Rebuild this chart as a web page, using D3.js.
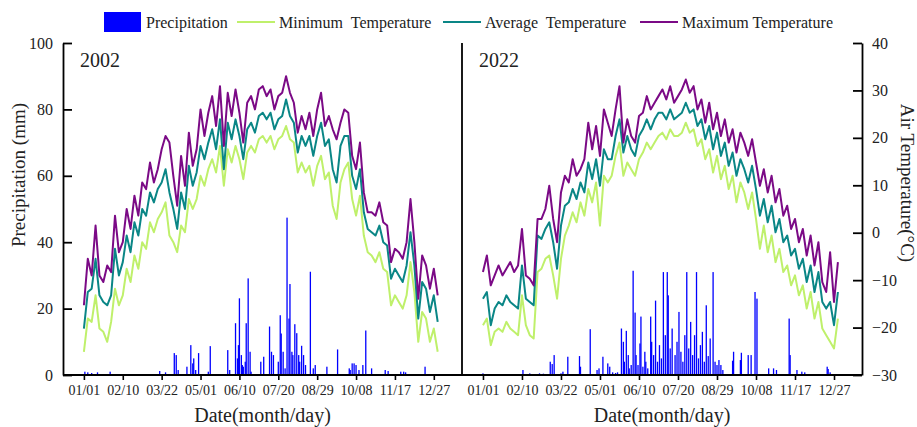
<!DOCTYPE html>
<html>
<head>
  <meta charset="utf-8">
  <script src="https://cdn.jsdelivr.net/npm/d3@7/dist/d3.min.js"></script>
  <style>
    body { margin: 0; background: #fff; }
    svg, svg text { font-family: "Liberation Serif", "Times New Roman", serif; }
    .pre { white-space: pre; }
  </style>
</head>
<body>
<svg id="chart" width="917" height="427"></svg>
<script>
  // day of year, sampled every 4 days
  var days = d3.range(0, 365, 4);
  var tickDays = [0, 40, 80, 120, 160, 200, 240, 280, 320, 360];
  var tickLabels = ['01/01', '02/10', '03/22', '05/01', '06/10', '07/20', '08/29', '10/08', '11/17', '12/27'];

  // air temperature (°C)
  var max2002 = [-15.3,-5.5,-9,1.5,-9,-10.4,-6.9,-8.3,3.6,-4.1,-2,5,0.8,7.8,3.6,10.6,9.2,14.8,10.6,13.4,17.6,20.4,19,12,5.7,16.2,9.9,21.1,14.1,17.6,26,20.4,25.3,28.8,22.5,30.9,18.3,29.5,24.6,30.2,25.3,19,27.4,28.8,26,30.2,30.9,28.8,30.2,26,28.8,29.5,33,29.5,27.4,21.1,24.6,21.8,25.3,20.4,26,29.5,22.5,24.6,21.8,19.7,23.2,26,25.3,16.2,13.4,19,8.5,4.3,4.3,3.6,6.4,2.2,1.5,-6.2,-3.4,-4.1,-5.5,-2,7.1,-2,-13.9,-4.8,-6.9,-11.8,-7.6,-13.2];
  var avg2002 = [-20.2,-12.5,-11.8,-5.5,-13.2,-14.6,-15.3,-13.2,-3.4,-9,-6.2,-0.6,-4.1,2.2,-0.6,5,3.6,8.5,6.4,9.2,10.6,13.4,8.5,5,0.8,8.5,5,14.1,9.9,12.7,18.3,15.5,19,21.8,17.6,23.9,13.4,23.2,19.7,23.9,20.4,15.5,21.8,23.2,21.1,24.6,25.3,23.9,25.3,21.8,23.9,24.6,28.1,24.6,23.2,16.9,20.4,18.3,20.4,16.2,20.4,23.2,18.3,19.7,13.4,10.6,18.3,20.4,20.4,12,9.2,13.4,4.3,0.8,0.1,-0.6,1.5,-2,-2.7,-9.7,-7.6,-9,-10.4,-6.9,0.1,-6.9,-18.1,-10.4,-11.8,-16.7,-13.2,-18.8];
  var min2002 = [-25.1,-18.1,-18.8,-13.2,-20.2,-20.9,-23,-18.8,-11.8,-15.3,-13.2,-7.6,-10.4,-4.8,-7.6,-2,-3.4,2.2,0.1,2.9,4.3,6.4,-0.6,-2,-4.1,1.5,0.1,7.1,5,7.1,12,9.9,13.4,15.5,12.7,18.3,9.9,17.6,14.8,18.3,15.5,11.3,16.9,18.3,16.9,19.7,20.4,19,20.4,17.6,19.7,20.4,22.5,19.7,19,12.7,14.8,12.7,14.1,9.9,14.1,16.2,11.3,12.7,5.7,2.9,10.6,13.4,14.8,7.1,3.6,7.8,-0.6,-4.1,-4.8,-6.2,-4.1,-7.6,-8.3,-15.3,-13.2,-14.6,-16,-13.2,-6.2,-12.5,-23,-16.7,-18.1,-23,-20.2,-25.1];

  var max2022 = [-8.3,-4.8,-11.1,-9,-6.9,-9,-7.6,-6.2,-8.3,-6.9,0.8,-9,-9.7,-11.1,2.9,2.9,5,9.9,2.9,-2,8.5,12,10.6,15.5,12,13.4,15.5,23.2,17.6,22.5,16.2,26,23.2,20.4,26,30.9,19,23.9,20.4,19,24.6,25.3,28.8,26,27.4,28.8,30.2,28.1,30.9,27.4,28.8,30.2,32.3,29.5,30.9,26,28.1,23.2,27.4,21.8,25.3,20.4,23.9,19,21.8,16.9,21.1,19,16.2,19.7,14.8,9.9,13.4,8.5,12,6.4,9.2,3.6,5.7,0.8,2.9,-2,0.8,-4.8,-0.6,-6.9,-2,-10.4,-12.5,-4.1,-14.6,-6.2];
  var avg2022 = [-13.9,-12.5,-19.5,-16,-14.6,-15.3,-13.2,-14.6,-15.3,-16,-6.9,-13.9,-14.6,-15.3,-0.6,-1.3,0.8,2.2,-2,-7.6,1.5,5.7,6.4,9.2,7.1,10.6,8.5,14.8,11.3,15.5,9.9,17.6,15.5,15.5,20.4,23.9,16.9,20.4,17.6,16.2,20.4,21.8,23.9,21.8,23.9,25.3,25.3,23.9,26,23.9,24.6,25.3,27.4,25.3,26,22.5,23.9,19.7,22.5,17.6,21.1,16.2,19,14.1,16.9,12,15.5,13.4,10.6,14.1,9.2,3.6,7.1,2.2,5.7,0.1,2.9,-2,-0.6,-4.8,-3.4,-7.6,-5.5,-10.4,-6.9,-12.5,-8.3,-14.6,-16,-14.6,-19.5,-12.5];
  var min2022 = [-19.5,-18.1,-23.7,-20.9,-20.2,-20.9,-18.8,-20.2,-20.9,-21.6,-13.2,-19.5,-21.6,-22.3,-8.3,-7.6,-5.5,-4.8,-9,-13.9,-5.5,-0.6,1.5,4.3,2.2,6.4,3.6,9.2,6.4,10.6,1.5,12,10.6,12,16.2,19,12,14.8,13.4,12,15.5,16.9,19,17.6,19,20.4,21.1,19.7,21.8,20.4,20.4,21.1,23.2,21.1,21.8,18.3,19.7,15.5,17.6,12.7,16.2,11.3,14.1,9.2,12,6.4,10.6,8.5,5,8.5,2.9,-3.4,1.5,-4.1,-0.6,-6.2,-3.4,-8.3,-6.9,-11.1,-9,-13.2,-11.1,-16,-12.5,-18.1,-14.6,-20.2,-21.6,-23,-24.4,-18.1];

  // precipitation (mm): [day of year, amount]
  var rain2002 = [[1,1],[4,0.8],[8,0.6],[14,0.8],[27,1],[78,1.2],[84,0.8],[93,6.6],[95,6],[97,1.5],[106,2.5],[110,9],[112,3.5],[113,5],[115,1.5],[118,6.6],[128,1],[130,8.7],[148,7.5],[150,1.5],[156,15.6],[158,5],[159,9],[160,23.1],[162,6],[163,3],[164,2.5],[166,4],[167,15.6],[169,29.1],[171,7],[172,1],[182,4],[185,5.5],[191,14.6],[193,7],[195,6],[200,4],[202,18],[203,12.5],[205,7],[207,2],[209,47.4],[211,17],[212,27.4],[214,7],[215,6],[217,15.3],[219,12.6],[221,6],[222,4],[224,8.8],[226,6],[228,3],[233,31.1],[236,2],[238,3],[250,2.5],[261,7.7],[273,2],[274,1.5],[276,3.5],[278,3.5],[280,3],[283,1.5],[287,3],[290,13.4],[296,2],[310,1.5],[313,1.2],[326,1],[329,1],[331,0.8],[351,2.5]];
  var rain2022 = [[0,0.5],[41,1.5],[48,0.5],[58,0.5],[62,0.4],[69,4],[71,3.3],[73,6],[80,0.5],[82,1],[87,5.5],[99,5.7],[100,2.5],[110,13.8],[117,1.5],[119,2],[123,5.5],[128,3.5],[130,2.5],[133,0.8],[136,0.6],[138,0.8],[142,14],[144,10],[145,4],[147,13.3],[149,6],[150,2],[152,3],[154,31.4],[156,18.8],[157,6],[159,3],[161,9.5],[162,17.6],[164,2.5],[166,7],[167,4],[169,2],[172,17.6],[173,10],[175,6],[177,22.4],[179,4],[181,9],[183,5],[185,31],[187,12],[189,31],[190,24],[192,8],[194,14],[197,6],[199,10],[201,19],[203,7],[205,4],[207,12],[209,31],[211,8],[213,16],[215,6],[217,12],[219,31],[221,5],[223,9],[225,13],[227,4],[229,21],[231,5.7],[233,11],[236,31],[238,4],[240,3],[242,4.5],[244,3],[246,1.5],[256,4.3],[257,7],[264,4.5],[265,6.7],[272,6],[275,6],[279,25],[281,23],[293,2],[298,2],[301,1.5],[314,17],[315,6],[322,1.5],[327,1],[330,0.8],[353,2.5],[354,1.8],[356,0.8]];

  var colors = { rain: '#0000ff', min: '#bff06b', avg: '#0a8686', max: '#7b0a86' };
  var serif = '"Liberation Serif", "Times New Roman", serif';

  var svg = d3.select('#chart');
  var plotTop = 43, plotBottom = 375, plotLeft = 63, plotMid = 462, plotRight = 862;

  var yRain = d3.scaleLinear().domain([0, 100]).range([plotBottom, plotTop]);
  var yTemp = d3.scaleLinear().domain([-30, 40]).range([plotBottom, plotTop]);

  var panels = [
    { year: '2002', max: max2002, avg: avg2002, min: min2002, rain: rain2002,
      x: d3.scaleLinear().domain([-21.5, 389]).range([plotLeft, plotMid]) },
    { year: '2022', max: max2022, avg: avg2022, min: min2022, rain: rain2022,
      x: d3.scaleLinear().domain([-21.5, 388.7]).range([plotMid, plotRight]) }
  ];

  panels.forEach(function(p) {
    var g = svg.append('g');

    g.selectAll('rect.bar').data(p.rain).enter().append('rect')
      .attr('class', 'bar')
      .attr('x', function(d) { return p.x(d[0]) - 0.65; })
      .attr('width', 1.3)
      .attr('y', function(d) { return yRain(d[1]); })
      .attr('height', function(d) { return yRain(0) - yRain(d[1]); })
      .attr('fill', colors.rain);

    ['min', 'avg', 'max'].forEach(function(k) {
      var line = d3.line()
        .x(function(d, i) { return p.x(days[i]); })
        .y(function(d) { return yTemp(d); });
      g.append('path')
        .datum(p[k])
        .attr('d', line)
        .attr('fill', 'none')
        .attr('stroke', colors[k])
        .attr('stroke-width', 2)
        .attr('stroke-linejoin', 'round');
    });

    var ax = g.append('g')
      .attr('transform', 'translate(0,' + plotBottom + ')')
      .call(d3.axisBottom(p.x).tickValues(tickDays)
        .tickFormat(function(d, i) { return tickLabels[i]; })
        .tickSizeInner(5).tickSizeOuter(0).tickPadding(5));
    ax.attr('font-family', serif).attr('font-size', 14);
    ax.select('.domain').remove();
    ax.selectAll('line').attr('stroke-width', 1.6);
    ax.selectAll('text').attr('fill', '#222');

    g.append('text')
      .attr('x', p.x(0) - 4).attr('y', 67)
      .attr('font-size', 20).attr('fill', '#222')
      .text(p.year);

    g.append('text')
      .attr('x', (p.x.range()[0] + p.x.range()[1]) / 2).attr('y', 422)
      .attr('text-anchor', 'middle')
      .attr('font-size', 20).attr('fill', '#222')
      .text('Date(month/day)');
  });

  // left & right axes
  var la = svg.append('g').attr('transform', 'translate(' + plotLeft + ',0)')
    .call(d3.axisLeft(yRain).tickValues([0, 20, 40, 60, 80, 100])
      .tickSizeInner(-9).tickSizeOuter(0).tickPadding(10));
  var ra = svg.append('g').attr('transform', 'translate(' + plotRight + ',0)')
    .call(d3.axisRight(yTemp).tickValues([-30, -20, -10, 0, 10, 20, 30, 40])
      .tickSizeInner(-9).tickSizeOuter(0).tickPadding(10));
  [la, ra].forEach(function(a) {
    a.attr('font-family', serif).attr('font-size', 16);
    a.select('.domain').attr('stroke-width', 1.8);
    a.selectAll('line').attr('stroke-width', 1.8);
    a.selectAll('text').attr('fill', '#222');
  });

  // baseline and divider
  svg.append('line').attr('x1', plotLeft).attr('x2', plotRight).attr('y1', plotBottom).attr('y2', plotBottom)
    .attr('stroke', '#000').attr('stroke-width', 1.8);
  svg.append('line').attr('x1', plotMid).attr('x2', plotMid).attr('y1', plotTop).attr('y2', plotBottom)
    .attr('stroke', '#000').attr('stroke-width', 1.8);

  svg.append('text')
    .attr('transform', 'translate(25,175) rotate(-90)')
    .attr('text-anchor', 'middle').attr('font-size', 19).attr('fill', '#222')
    .text('Precipitation (mm)');
  svg.append('text')
    .attr('transform', 'translate(901,183) rotate(90)')
    .attr('text-anchor', 'middle').attr('font-size', 19).attr('fill', '#222')
    .text('Air Temperature(°C)');

  // legend
  var lg = svg.append('g');
  lg.append('rect').attr('x', 104).attr('y', 12).attr('width', 37).attr('height', 20).attr('fill', colors.rain);
  lg.append('text').attr('x', 146).attr('y', 28).attr('font-size', 16).attr('fill', '#222').text('Precipitation');
  var items = [
    { k: 'min', x: 237, label: 'Minimum  Temperature' },
    { k: 'avg', x: 443, label: 'Average  Temperature' },
    { k: 'max', x: 640, label: 'Maximum Temperature' }
  ];
  items.forEach(function(it) {
    lg.append('line').attr('x1', it.x).attr('x2', it.x + 38).attr('y1', 22).attr('y2', 22)
      .attr('stroke', colors[it.k]).attr('stroke-width', 2);
    lg.append('text').attr('class', 'pre').attr('x', it.x + 42).attr('y', 28)
      .attr('font-size', 16).attr('fill', '#222').text(it.label);
  });
</script>
</body>
</html>
